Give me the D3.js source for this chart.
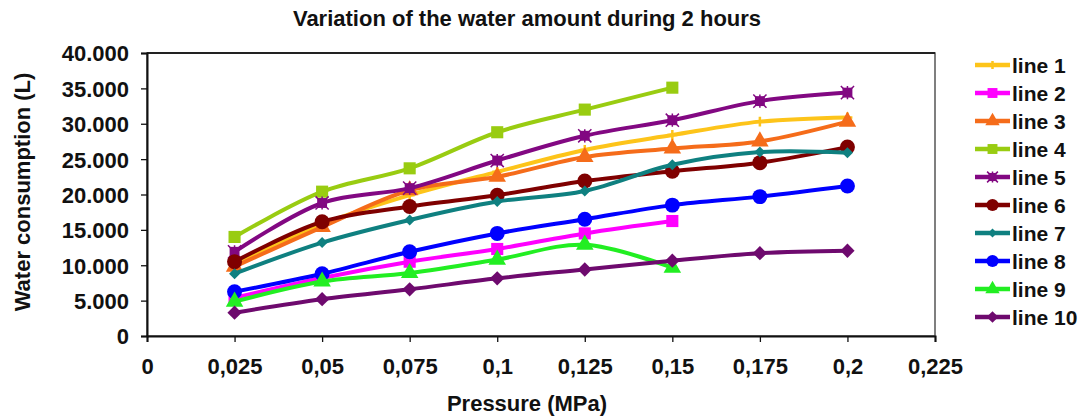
<!DOCTYPE html>
<html><head><meta charset="utf-8">
<script src="https://cdn.jsdelivr.net/npm/d3@7"></script>
<style>body{margin:0;background:#fff}svg{display:block}text{font-family:"Liberation Sans",Arial,sans-serif;font-weight:bold;fill:#111}</style>
</head><body>
<svg id="c" width="1084" height="419"></svg>
<script>
const pressures = [0.025, 0.05, 0.075, 0.1, 0.125, 0.15, 0.175, 0.2];
const xTicks = [0, 0.025, 0.05, 0.075, 0.1, 0.125, 0.15, 0.175, 0.2, 0.225];
const yTicks = [0, 5000, 10000, 15000, 20000, 25000, 30000, 35000, 40000];
const seriesNames = ["line 1","line 2","line 3","line 4","line 5","line 6","line 7","line 8","line 9","line 10"];
const line1 = [10200, 15800, 19900, 23200, 26300, 28400, 30300, 30900];
const line2 = [5400, 8200, 10500, 12300, 14500, 16250];
const line3 = [9800, 15400, 20600, 22500, 25300, 26500, 27500, 30300];
const line4 = [14000, 20400, 23700, 28800, 32000, 35100];
const line5 = [11900, 18800, 20900, 24800, 28300, 30500, 33200, 34400];
const line6 = [10500, 16150, 18300, 19900, 21900, 23300, 24500, 26700];
const line7 = [8800, 13200, 16400, 19000, 20500, 24200, 26000, 25900];
const line8 = [6250, 8800, 11900, 14500, 16500, 18500, 19700, 21200];
const line9 = [4850, 7700, 8900, 10800, 12900, 9650];
const line10 = [3300, 5200, 6600, 8150, 9400, 10650, 11700, 12050];
const seriesValues = [line1,line2,line3,line4,line5,line6,line7,line8,line9,line10];
const colors = ["#FDC41A","#FF00FF","#F56C1A","#99CC11","#820882","#7F0000","#0F8080","#0000FF","#22EE22","#6E0A6E"];
const markers = ["plus","square","triangle","square","star","circle","diamondS","circle","triangle","diamond"];

const svg = d3.select("#c");
const x = d3.scaleLinear().domain([0, 0.225]).range([147, 935]);
const y = d3.scaleLinear().domain([0, 40000]).range([336, 53]);

// plot border
svg.append("rect").attr("x",147).attr("y",53).attr("width",788).attr("height",283)
  .attr("fill","none").attr("stroke","#555").attr("stroke-width",1.5);
svg.append("line").attr("x1",147).attr("x2",935).attr("y1",53).attr("y2",53).attr("stroke","#222").attr("stroke-width",2);

const yAxis = svg.append("g").attr("transform","translate(147,0)")
  .call(d3.axisLeft(y).tickValues(yTicks).tickSize(6).tickPadding(12)
    .tickFormat(v => v===0 ? "0" : (v/1000).toFixed(3)));
const xAxis = svg.append("g").attr("transform","translate(0,336)")
  .call(d3.axisBottom(x).tickValues(xTicks).tickSize(6).tickPadding(16)
    .tickFormat(v => String(+v.toFixed(3)).replace(".", ",")));
[yAxis, xAxis].forEach(a => {
  a.select(".domain").attr("stroke","#111").attr("stroke-width",2);
  a.selectAll(".tick line").attr("stroke","#111").attr("stroke-width",1.3);
  a.selectAll("text").attr("font-size",22).attr("font-family",'"Liberation Sans",Arial,sans-serif').attr("font-weight","bold").attr("fill","#111");
});
yAxis.selectAll("text").attr("dy","0.36em");

svg.append("text").attr("x",527).attr("y",26).attr("text-anchor","middle").attr("font-size",22)
  .text("Variation of the water amount during 2 hours");
svg.append("text").attr("transform","translate(30,192) rotate(-90)").attr("text-anchor","middle").attr("font-size",22)
  .text("Water consumption (L)");
svg.append("text").attr("x",527).attr("y",411).attr("text-anchor","middle").attr("font-size",22)
  .text("Pressure (MPa)");

function drawMarker(g, type, color, cx, cy, s) {
  if (type === "square") {
    g.append("rect").attr("x",cx-s*0.55).attr("y",cy-s*0.55).attr("width",s*1.1).attr("height",s*1.1).attr("fill",color);
  } else if (type === "triangle") {
    g.append("path").attr("d",d3.symbol(d3.symbolTriangle, s*s*1.1)()).attr("transform",`translate(${cx},${cy})`).attr("fill",color);
  } else if (type === "circle") {
    g.append("circle").attr("cx",cx).attr("cy",cy).attr("r",s*0.68).attr("fill",color);
  } else if (type === "diamond") {
    const r = s*0.65;
    g.append("path").attr("d",`M${cx},${cy-r}L${cx+r},${cy}L${cx},${cy+r}L${cx-r},${cy}Z`).attr("fill",color);
  } else if (type === "diamondS") {
    const r = s*0.5;
    g.append("path").attr("d",`M${cx},${cy-r}L${cx+r},${cy}L${cx},${cy+r}L${cx-r},${cy}Z`).attr("fill",color);
  } else if (type === "plus") {
    const r = s*0.45;
    g.append("path").attr("d",`M${cx-r},${cy}L${cx+r},${cy}M${cx},${cy-r}L${cx},${cy+r}`).attr("stroke",color).attr("stroke-width",2.5);
  } else if (type === "star") {
    g.append("rect").attr("x",cx-s*0.45).attr("y",cy-s*0.45).attr("width",s*0.9).attr("height",s*0.9).attr("fill",color);
    const r = s*0.6;
    g.append("path").attr("d",`M${cx-r},${cy-r}L${cx+r},${cy+r}M${cx-r},${cy+r}L${cx+r},${cy-r}M${cx},${cy-r}L${cx},${cy+r}`).attr("stroke",color).attr("stroke-width",1.5);
  }
}

const lineGen = d3.line().x(d => x(d[0])).y(d => y(d[1])).curve(d3.curveCatmullRom.alpha(0.5));
seriesValues.forEach((vals, i) => {
  const pts = vals.map((v, j) => [pressures[j], v]);
  const g = svg.append("g");
  g.append("path").datum(pts).attr("d", lineGen).attr("fill","none").attr("stroke",colors[i]).attr("stroke-width",4).attr("stroke-linejoin","round");
  pts.forEach(p => drawMarker(g, markers[i], colors[i], x(p[0]), y(p[1]), 11));
});

// legend
const lg = svg.append("g");
seriesNames.forEach((name, i) => {
  const cy = 65 + i*28;
  lg.append("line").attr("x1",975).attr("x2",1010).attr("y1",cy).attr("y2",cy).attr("stroke",colors[i]).attr("stroke-width",4.5);
  drawMarker(lg, markers[i], colors[i], 992.5, cy, 9);
  lg.append("text").attr("x",1012).attr("y",cy).attr("dy","0.36em").attr("font-size",21).text(name);
});
</script>
</body></html>
